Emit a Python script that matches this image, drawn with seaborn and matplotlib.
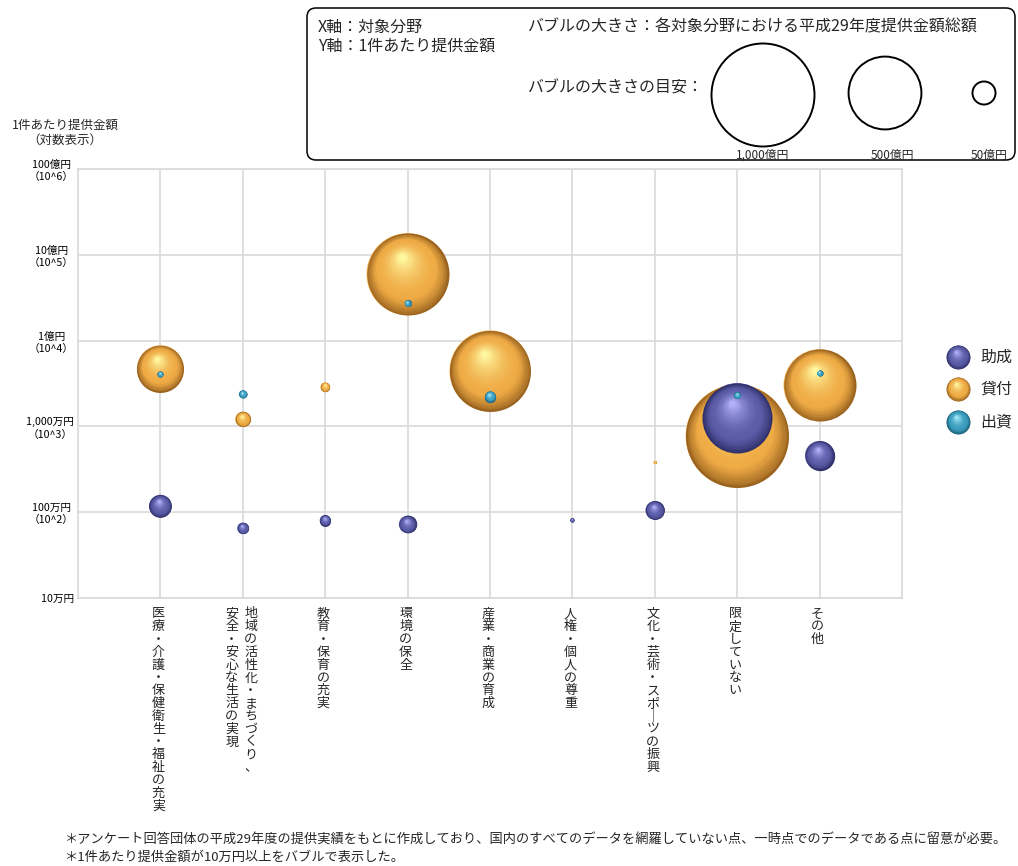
import numpy as np
import pandas as pd
import matplotlib
matplotlib.use("Agg")
import matplotlib.pyplot as plt
import matplotlib.transforms as mtransforms
from matplotlib.patches import FancyBboxPatch
from matplotlib.colors import to_rgb
import seaborn as sns

# 対象分野 (改行は縦書きラベルの列の区切り)
categories = [
    "医療・介護・保健衛生・福祉の充実",
    "地域の活性化・まちづくり、\n安全・安心な生活の実現",
    "教育・保育の充実",
    "環境の保全",
    "産業・商業の育成",
    "人権・個人の尊重",
    "文化・芸術・スポーツの振興",
    "限定していない",
    "その他",
]

types = ["助成", "貸付", "出資"]

# 助成: 1件あたり提供金額 (万円) と 提供金額総額 (億円)
grant_fields = [categories[i] for i in (0, 1, 2, 3, 5, 6, 7, 8)]
grant_per_case = [118, 65, 80, 72, 81, 105, 1250, 457]
grant_total = [48, 12, 11.4, 29, 1.5, 33, 462, 81]

# 貸付
loan_fields = [categories[i] for i in (0, 1, 2, 3, 4, 6, 7, 8)]
loan_per_case = [4690, 1210, 2880, 59400, 4430, 380, 773, 3020]
loan_total = [208, 22, 8.3, 634, 618, 0.85, 1000, 489]

# 出資
invest_fields = [categories[i] for i in (0, 1, 3, 4, 7, 8)]
invest_per_case = [4050, 2370, 27200, 2220, 2300, 4160]
invest_total = [3.4, 6.0, 4.6, 12.2, 4.6, 3.4]

y_ticks = [10, 100, 1000, 10000, 100000, 1000000]
y_tick_labels = ["10万円", "100万円\n（10^2）", "1,000万円\n（10^3）",
                 "1億円\n（10^4）", "10億円\n（10^5）", "100億円\n（10^6）"]

size_guide_values = [1000, 500, 50]
size_guide_labels = ["1,000億円", "500億円", "50億円"]

footnotes = [
    "＊アンケート回答団体の平成29年度の提供実績をもとに作成しており、国内のすべてのデータを網羅していない点、一時点でのデータである点に留意が必要。",
    "＊1件あたり提供金額が10万円以上をバブルで表示した。",
]

# 球体風の塗り: (縁の暗色, 基本色, ハイライト)
shades = {
    "助成": ("#2e2f68", "#5b5ca8", "#b2b0f8"),
    "貸付": ("#9a6420", "#efab45", "#fff7a0"),
    "出資": ("#1d6079", "#3a9cbe", "#a2ecfa"),
}

# ---- data frame ----
rows = []
for t, fields, pc, tot in [("助成", grant_fields, grant_per_case, grant_total),
                           ("貸付", loan_fields, loan_per_case, loan_total),
                           ("出資", invest_fields, invest_per_case, invest_total)]:
    for f, p, s in zip(fields, pc, tot):
        rows.append({"対象分野": f, "種類": t, "pos": categories.index(f) + 1,
                     "1件あたり提供金額": p, "提供金額総額": s})
df = pd.DataFrame(rows)

# bubble area proportional to total; 1,000億円 -> 74pt diameter
S_MAX = (2 * 51.5 * 0.72) ** 2


def area(v):
    return S_MAX * v / 1000.0


sns.set_style("white")
plt.rcParams["font.family"] = ["Noto Sans CJK JP", "DejaVu Sans"]

W, H = 1018, 866
fig = plt.figure(figsize=(W / 100, H / 100), dpi=100)
ax = fig.add_axes([78 / W, (H - 598) / H, 824 / W, 429 / H])

sns.scatterplot(data=df, x="pos", y="1件あたり提供金額", hue="種類", hue_order=types,
                palette={k: v[1] for k, v in shades.items()},
                size="提供金額総額", sizes=(0, S_MAX), size_norm=(0, 1000),
                legend=False, linewidth=0, ax=ax, zorder=2)


def mix(a, b, t):
    a, b = np.array(to_rgb(a)), np.array(to_rgb(b))
    return tuple(a + (b - a) * t)


def sphere(axis, x, y, s, colors, z, n=30):
    rim, base, hi = colors
    R = np.sqrt(s) / 2.0
    for i, t in enumerate(np.linspace(0, 1, n)):
        r = R * (1 - 0.92 * t)
        tr = mtransforms.offset_copy(axis.transData, fig=axis.figure,
                                     x=-0.14 * t * R, y=0.42 * t * R, units="points")
        if t < 0.28:
            c = mix(rim, base, (t / 0.28) ** 0.8)
        else:
            c = mix(base, hi, ((t - 0.28) / 0.72) ** 1.8)
        axis.scatter([x], [y], s=(2 * r) ** 2, color=c, linewidths=0,
                     transform=tr, zorder=z + i * 1e-3, clip_on=False)


order = df.sort_values("提供金額総額", ascending=False).reset_index(drop=True)
for k, row in order.iterrows():
    sphere(ax, row["pos"], row["1件あたり提供金額"], area(row["提供金額総額"]),
           shades[row["種類"]], z=3 + k * 0.05)

ax.set_yscale("log")
ax.set_xlim(0, len(categories) + 1)
ax.set_ylim(y_ticks[0], y_ticks[-1])
ax.set_xticks(range(1, len(categories) + 1))
ax.set_xticklabels([""] * len(categories))
ax.set_yticks(y_ticks)
ax.set_yticklabels(y_tick_labels)
ax.yaxis.set_minor_locator(matplotlib.ticker.NullLocator())
ax.tick_params(axis="both", length=0, pad=3)
ax.tick_params(axis="y", labelsize=7.7, colors="#000000")
for lbl in ax.get_yticklabels():
    lbl.set_multialignment("center")
    lbl.set_linespacing(1.25)
ax.grid(True, color="#d9d9d9", linewidth=1.2)
ax.set_axisbelow(True)
for sp in ax.spines.values():
    sp.set_color("#d9d9d9")
    sp.set_linewidth(1.2)
ax.set_xlabel("")
ax.set_ylabel("")

# vertical (縦書き) category labels; columns run right to left
for i, label in enumerate(categories):
    cols = label.split("\n")
    offs = [8, -11] if len(cols) == 2 else [-2]
    for col, dx in zip(cols, offs):
        for j, ch in enumerate(col.replace("ー", "｜")):
            ax.annotate(ch, xy=(i + 1, 0), xycoords=("data", "axes fraction"),
                        xytext=(dx * 0.72, -(16 + j * 12.8) * 0.72),
                        textcoords="offset points", ha="center", va="center",
                        fontsize=9.4, annotation_clip=False)

# y axis title
fig.text(65 / W, 1 - 125 / H, "1件あたり提供金額", ha="center", va="center", fontsize=9)
fig.text(65 / W, 1 - 140 / H, "（対数表示）", ha="center", va="center", fontsize=9)

# overlay in pixel units for legends and notes
ov = fig.add_axes([0, 0, 1, 1])
ov.set_xlim(0, W)
ov.set_ylim(0, H)
ov.axis("off")
ov.patch.set_alpha(0)


def Y(y):
    return H - y


box = FancyBboxPatch((307, Y(160)), 708, 152, boxstyle="round,pad=0,rounding_size=9",
                     facecolor="white", edgecolor="black", linewidth=1.1, zorder=1)
ov.add_patch(box)
ov.text(318, Y(27), "X軸：対象分野", fontsize=11.5, va="center", ha="left")
ov.text(318, Y(46), "Y軸：1件あたり提供金額", fontsize=11.5, va="center", ha="left")
ov.text(528, Y(27), "バブルの大きさ：各対象分野における平成29年度提供金額総額",
        fontsize=11.5, va="center", ha="left")
ov.text(528, Y(88), "バブルの大きさの目安：", fontsize=11.5, va="center", ha="left")

guide_x = [763, 885, 984]
guide_y = [95, 93, 93]
label_x = [763, 892, 989]
for v, gx, gy, lx, lab in zip(size_guide_values, guide_x, guide_y, label_x, size_guide_labels):
    ov.scatter([gx], [Y(gy)], s=area(v), facecolor="none", edgecolor="black",
               linewidths=1.4, zorder=3)
    ov.text(lx, Y(155), lab, fontsize=8.5, ha="center", va="center")

# series legend
leg_y = [357, 389, 422]
for t, ly in zip(types, leg_y):
    sphere(ov, 958, Y(ly), (2 * 12 * 0.72) ** 2, shades[t], z=4)
    ov.text(980, Y(ly), t, fontsize=11.5, ha="left", va="center")

ov.text(65, Y(840), footnotes[0], fontsize=9.5, ha="left", va="center")
ov.text(65, Y(857), footnotes[1], fontsize=9.5, ha="left", va="center")

fig.savefig("out.png", dpi=100)
